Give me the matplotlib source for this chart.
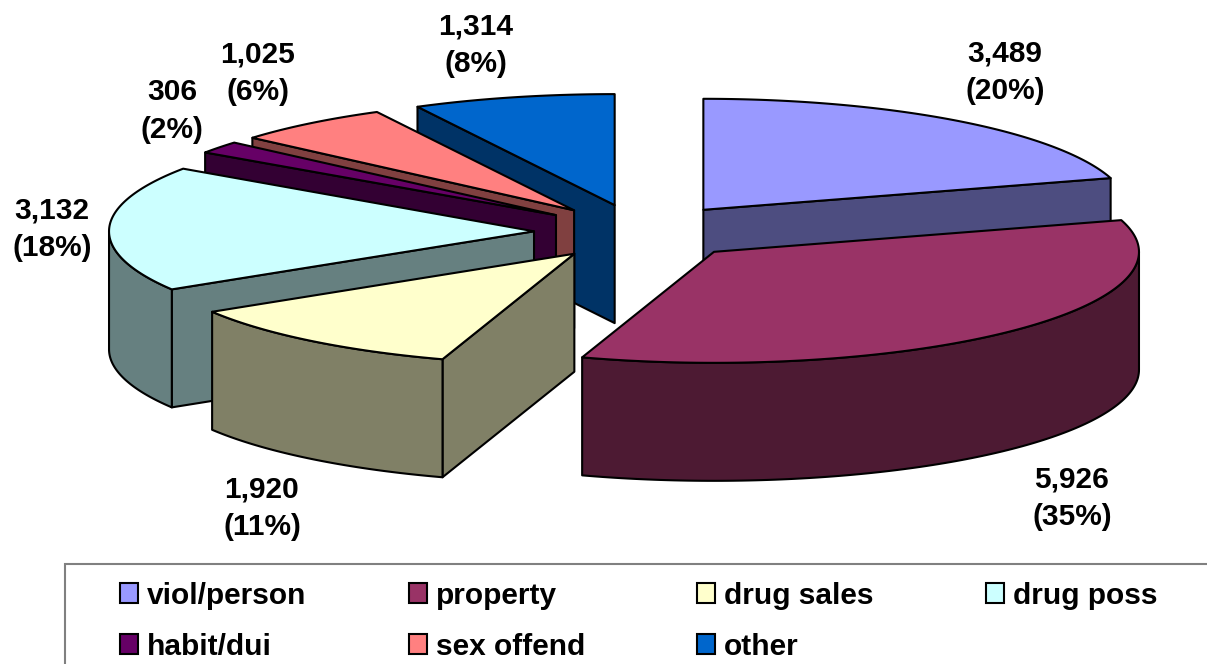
import numpy as np
import matplotlib
matplotlib.use("Agg")
import matplotlib.pyplot as plt
from matplotlib.patches import Polygon, Rectangle

categories = ["viol/person", "property", "drug sales", "drug poss", "habit/dui", "sex offend", "other"]
values = [3489, 5926, 1920, 3132, 306, 1025, 1314]
percent_labels = ["20%", "35%", "11%", "18%", "2%", "6%", "8%"]
top_colors = ["#9999FF", "#993366", "#FFFFCC", "#CCFFFF", "#660066", "#FF8080", "#0066CC"]
side_colors = ["#4D4D80", "#4D1A33", "#808066", "#668080", "#330033", "#804040", "#003366"]
label_xy = [(1005, 72), (1072, 498), (262, 508), (52, 229), (172, 111), (258, 73), (476, 45)]
legend_xy = [(120, 593), (409, 593), (697, 593), (986, 593), (120, 644), (409, 644), (697, 644)]
draw_order = [6, 5, 4, 0, 3, 2, 1]

CX, CY = 640.0, 232.0      # pie centre before explosion, pixels
RX, RY = 425.0, 111.0      # top ellipse radii
DEPTH = 118.0              # extrusion
EXPLODE = 106.0            # explosion in radius units along x
LW = 1.5
FONT = "Liberation Sans"
FS = 21.5

fig = plt.figure(figsize=(12.07, 6.64), dpi=100)
ax = fig.add_axes([0, 0, 1, 1])
ax.set_xlim(0, 1207)
ax.set_ylim(664, 0)
ax.axis("off")

fractions = np.array(values, dtype=float) / np.sum(values)
edges = np.concatenate([[0.0], np.cumsum(fractions)]) * 360.0


def point(a, cx, cy):
    t = np.radians(a)
    return np.column_stack([cx + RX * np.sin(t), cy - RY * np.cos(t)])


def face(pts, color, z):
    ax.add_patch(Polygon(pts, closed=True, facecolor=color, edgecolor="black",
                         linewidth=LW, joinstyle="round", zorder=z))


for rank, i in enumerate(draw_order):
    a0, a1 = edges[i], edges[i + 1]
    mid = 0.5 * (a0 + a1)
    cx = CX + EXPLODE * np.sin(np.radians(mid))
    cy = CY - EXPLODE * RY / RX * np.cos(np.radians(mid))
    apex = np.array([[cx, cy]])
    down = np.array([0, DEPTH])
    z = 2 + rank
    inner = point(np.array([mid]), cx, cy)[0] * 0.5 + apex[0] * 0.5
    for a in (a0, a1):
        p = point(np.array([a]), cx, cy)[0]
        dx = p[0] - cx
        if abs(dx) < 1:
            continue
        line_y = cy + (p[1] - cy) * (inner[0] - cx) / dx
        if inner[1] < line_y:  # wedge lies above this cut, so the cut face shows
            face(np.vstack([apex, [p], [p + down], apex + down]), side_colors[i], z)
    lo, hi = max(a0, 90.0), min(a1, 270.0)
    if hi > lo:
        arc = np.linspace(lo, hi, 120)
        rim = point(arc, cx, cy)
        face(np.vstack([rim, (rim + down)[::-1]]), side_colors[i], z)
    top = point(np.linspace(a0, a1, 200), cx, cy)
    face(np.vstack([apex, top]), top_colors[i], z)

for (x, y), v, pct in zip(label_xy, values, percent_labels):
    ax.text(x, y, f"{v:,}\n({pct})", ha="center", va="center", fontsize=FS,
            fontweight="bold", family=FONT, color="black", linespacing=1.45, zorder=30)

# legend frame runs off the bottom and right of the picture
ax.add_patch(Rectangle((65, 564), 1300, 200, facecolor="white", edgecolor="#808080",
                       linewidth=1.5, zorder=1))
for (x, y), name, col in zip(legend_xy, categories, top_colors):
    ax.add_patch(Rectangle((x, y - 10), 18, 20, facecolor=col, edgecolor="black",
                           linewidth=1.5, zorder=31))
    ax.text(x + 27, y, name, ha="left", va="center_baseline", fontsize=FS,
            fontweight="bold", family=FONT, color="black", zorder=31)

fig.savefig("out.png", dpi=100, facecolor="white")
